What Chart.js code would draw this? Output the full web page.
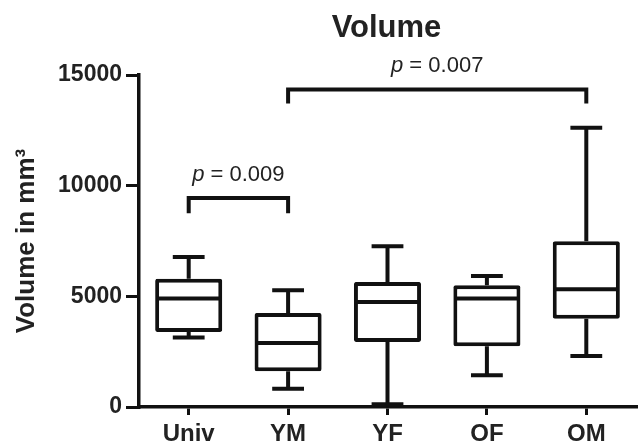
<!DOCTYPE html>
<html>
<head>
<meta charset="utf-8">
<script src="https://cdn.jsdelivr.net/npm/chart.js@4"></script>
<style>
  html,body{margin:0;padding:0;background:#fff;}
  #wrap{width:639px;height:444px;position:relative;}
</style>
</head>
<body>
<div id="wrap"><canvas id="myChart"></canvas></div>
<script>
const categories=['Univ','YM','YF','OF','OM'];
const whiskerMin=[3140,830,120,1430,2300];
const q1=[3390,1610,2940,2740,3990];
const median=[4900,2890,4740,4900,5320];
const q3=[5800,4250,5650,5500,7490];
const whiskerMax=[6780,5270,7260,5920,12620];
const yTicks=[0,5000,10000,15000];
// significance brackets: pair of groups, bar level, end level, p value
const pairFrom=[0,1];
const pairTo=[1,4];
const bracketTop=[9440,14350];
const bracketEnd=[8750,13710];
const pValues=['0.009','0.007'];

const FONT='"Liberation Sans", Arial, Helvetica, sans-serif';

const boxPlugin={
  id:'boxExtras',
  afterDatasetsDraw(chart){
    const ctx=chart.ctx;
    const x=chart.scales.x, y=chart.scales.y;
    const step=x.getPixelForValue(1)-x.getPixelForValue(0);
    const capHalf=step*0.16;
    const boxHalf=step*0.675/2;
    ctx.save();
    ctx.strokeStyle='#111';
    ctx.lineWidth=4;
    ctx.lineCap='butt';
    categories.forEach((c,i)=>{
      const cx=x.getPixelForValue(i);
      const pMin=y.getPixelForValue(whiskerMin[i]);
      const pMax=y.getPixelForValue(whiskerMax[i]);
      const pQ1=y.getPixelForValue(q1[i]);
      const pQ3=y.getPixelForValue(q3[i]);
      const pMed=y.getPixelForValue(median[i]);
      ctx.beginPath();
      ctx.moveTo(cx,pQ3);ctx.lineTo(cx,pMax);
      ctx.moveTo(cx,pQ1);ctx.lineTo(cx,pMin);
      ctx.moveTo(cx-capHalf,pMax);ctx.lineTo(cx+capHalf,pMax);
      ctx.moveTo(cx-capHalf,pMin);ctx.lineTo(cx+capHalf,pMin);
      ctx.moveTo(cx-boxHalf+2,pMed);ctx.lineTo(cx+boxHalf-2,pMed);
      ctx.stroke();
    });
    ctx.restore();
  },
  afterDraw(chart){
    const ctx=chart.ctx;
    const x=chart.scales.x, y=chart.scales.y;
    const area=chart.chartArea;
    ctx.save();
    ctx.strokeStyle='#111';
    ctx.lineWidth=4;
    ctx.lineJoin='miter';
    pairFrom.forEach((f,k)=>{
      const x1=x.getPixelForValue(f), x2=x.getPixelForValue(pairTo[k]);
      const yt=y.getPixelForValue(bracketTop[k]), ye=y.getPixelForValue(bracketEnd[k]);
      ctx.beginPath();
      ctx.moveTo(x1,ye);ctx.lineTo(x1,yt);ctx.lineTo(x2,yt);ctx.lineTo(x2,ye);
      ctx.stroke();
      // p label: italic p + regular rest
      const rest=' = '+pValues[k];
      ctx.fillStyle='#222';
      ctx.textBaseline='alphabetic';
      ctx.font='italic 22px '+FONT;
      const wp=ctx.measureText('p').width;
      ctx.font='22px '+FONT;
      const wr=ctx.measureText(rest).width;
      const start=(x1+x2)/2-(wp+wr)/2;
      ctx.font='italic 22px '+FONT;
      ctx.fillText('p',start,yt-17);
      ctx.font='22px '+FONT;
      ctx.fillText(rest,start+wp,yt-17);
    });
    ctx.fillStyle='#222';
    ctx.font='bold 31px '+FONT;
    ctx.textAlign='center';
    ctx.fillText('Volume',(area.left+area.right)/2-1,37);
    ctx.restore();
  }
};

window.addEventListener('load',()=>{
  const ctx=document.getElementById('myChart');
  new Chart(ctx,{
    type:'bar',
    data:{
      labels:categories,
      datasets:[{
        label:'Volume',
        data:categories.map((c,i)=>[q1[i],q3[i]]),
        backgroundColor:'#fff',
        borderColor:'#111',
        borderWidth:4,
        borderSkipped:false,
        borderRadius:2,
        barPercentage:0.675,
        categoryPercentage:1
      }]
    },
    options:{
      responsive:true,
      maintainAspectRatio:false,
      animation:false,
      layout:{padding:{top:75,right:3,left:0,bottom:0}},
      plugins:{legend:{display:false},tooltip:{enabled:false},title:{display:false}},
      scales:{
        x:{
          type:'category',
          offset:true,
          grid:{display:true,drawOnChartArea:false,drawTicks:true,tickLength:8,offset:false,color:'#111',lineWidth:3},
          border:{display:true,color:'#111',width:3.5},
          ticks:{color:'#222',padding:5,font:{family:FONT,size:24,weight:'bold'},maxRotation:0},
          afterFit(s){s.height=37;}
        },
        y:{
          min:0,max:15000,
          afterBuildTicks(s){s.ticks=yTicks.map(v=>({value:v}));},
          grid:{display:true,drawOnChartArea:false,drawTicks:true,tickLength:13,color:'#111',lineWidth:3},
          border:{display:true,color:'#111',width:3.5},
          ticks:{color:'#222',padding:4,font:{family:FONT,size:23,weight:'bold'},callback:v=>String(v)},
          title:{display:true,text:'Volume in mm³',color:'#222',padding:{top:11,bottom:0},font:{family:FONT,size:26,weight:'bold'}},
          afterFit(s){s.width=139;}
        }
      }
    },
    plugins:[boxPlugin]
  });
});
</script>
</body>
</html>
